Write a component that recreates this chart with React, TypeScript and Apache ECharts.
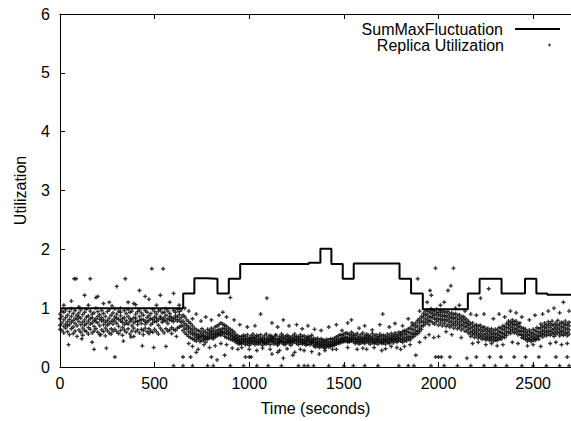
import { useEffect, useRef } from "react";
import * as echarts from "echarts";

// SumMaxFluctuation step line: value holds from each time to the next
const stepTimes = [0, 651, 710, 771, 832, 892, 952, 1314, 1376, 1434, 1494, 1552, 1794, 1855, 1917, 2155, 2217, 2333, 2457, 2517, 2575, 2700];
const stepValues = [1.0, 1.25, 1.51, 1.5, 1.25, 1.5, 1.75, 1.77, 2.01, 1.75, 1.5, 1.76, 1.5, 1.25, 0.98, 1.25, 1.5, 1.25, 1.5, 1.25, 1.23, 1.23];

// Replica Utilization, dense band: [time, v1, v2, v3, v4]
const bandRows: number[][] = [
  [0, 0.82, 0.71, 0.90, 0.64], [10, 0.75, 0.86, 0.62, 0.95], [20, 0.80, 0.69, 0.93, 0.58], [30, 0.84, 0.73, 0.66, 0.97],
  [40, 0.77, 0.88, 0.60, 0.70], [50, 0.72, 0.81, 0.94, 0.55], [60, 0.86, 0.76, 0.65, 0.99], [70, 0.79, 0.68, 0.91, 0.57],
  [80, 0.74, 0.83, 0.61, 0.96], [90, 0.81, 0.70, 0.88, 0.52], [100, 0.77, 0.85, 0.63, 0.92], [110, 0.83, 0.72, 0.97, 0.59],
  [120, 0.76, 0.89, 0.66, 0.54], [130, 0.80, 0.71, 0.93, 0.62], [140, 0.85, 0.74, 0.60, 0.98], [150, 0.78, 0.87, 0.67, 0.56],
  [160, 0.73, 0.82, 0.95, 0.64], [170, 0.84, 0.75, 0.58, 0.90], [180, 0.79, 0.69, 0.92, 0.61], [190, 0.82, 0.77, 0.65, 1.00],
  [200, 0.75, 0.86, 0.59, 0.94], [210, 0.81, 0.70, 0.89, 0.55], [220, 0.78, 0.84, 0.63, 0.96], [230, 0.72, 0.80, 0.91, 0.60],
  [240, 0.86, 0.76, 0.66, 0.53], [250, 0.79, 0.71, 0.94, 0.62], [260, 0.83, 0.74, 0.58, 0.97], [270, 0.77, 0.88, 0.65, 0.56],
  [280, 0.80, 0.73, 0.92, 0.61], [290, 0.85, 0.78, 0.64, 0.99], [300, 0.74, 0.83, 0.60, 0.90], [310, 0.81, 0.69, 0.95, 0.57],
  [320, 0.78, 0.87, 0.62, 0.93], [330, 0.76, 0.82, 0.67, 0.54], [340, 0.84, 0.72, 0.96, 0.63], [350, 0.79, 0.75, 0.59, 0.91],
  [360, 0.73, 0.86, 0.65, 0.98], [370, 0.82, 0.77, 0.93, 0.56], [380, 0.80, 0.70, 0.61, 0.95], [390, 0.75, 0.84, 0.66, 0.52],
  [400, 0.83, 0.78, 0.90, 0.60], [410, 0.77, 0.72, 0.94, 0.63], [420, 0.86, 0.79, 0.58, 0.97], [430, 0.74, 0.81, 0.64, 0.92],
  [440, 0.80, 0.88, 0.62, 0.55], [450, 0.78, 0.73, 0.96, 0.66], [460, 0.84, 0.76, 0.60, 0.93], [470, 0.79, 0.87, 0.65, 0.57],
  [480, 0.72, 0.82, 0.91, 0.61], [490, 0.81, 0.75, 0.98, 0.59], [500, 0.85, 0.78, 0.64, 0.94], [510, 0.77, 0.83, 0.60, 0.90],
  [520, 0.80, 0.71, 0.95, 0.56], [530, 0.83, 0.86, 0.66, 0.97], [540, 0.76, 0.81, 0.62, 0.92], [550, 0.84, 0.79, 0.93, 0.58],
  [560, 0.78, 0.88, 0.65, 0.99], [570, 0.82, 0.74, 0.61, 0.95], [580, 0.86, 0.80, 0.91, 0.63], [590, 0.79, 0.84, 0.67, 0.57],
  [600, 0.83, 0.77, 0.96, 0.64], [610, 0.81, 0.87, 0.62, 0.93], [620, 0.85, 0.78, 0.98, 0.66], [630, 0.80, 0.89, 0.68, 0.94],
  [640, 0.84, 0.76, 0.97, 0.70],
  [650, 0.78, 0.70, 0.88, 0.62], [660, 0.74, 0.85, 0.66, 0.58], [670, 0.71, 0.64, 0.80, 0.55], [680, 0.68, 0.77, 0.60, 0.52],
  [690, 0.65, 0.58, 0.74, 0.50], [700, 0.62, 0.70, 0.56, 0.48],
  [710, 0.58, 0.53, 0.66, 0.46], [720, 0.56, 0.63, 0.50, 0.44], [730, 0.55, 0.51, 0.62, 0.47], [740, 0.53, 0.60, 0.49, 0.43],
  [750, 0.57, 0.52, 0.65, 0.45], [760, 0.54, 0.61, 0.50, 0.46], [770, 0.52, 0.48, 0.59, 0.42], [780, 0.56, 0.64, 0.51, 0.47],
  [790, 0.53, 0.58, 0.49, 0.62], [800, 0.55, 0.60, 0.50, 0.66], [810, 0.57, 0.52, 0.63, 0.48],
  [820, 0.60, 0.55, 0.68, 0.51], [830, 0.62, 0.70, 0.57, 0.53], [840, 0.64, 0.58, 0.72, 0.55], [850, 0.63, 0.75, 0.59, 0.54],
  [860, 0.66, 0.60, 0.73, 0.56], [870, 0.65, 0.71, 0.58, 0.52], [880, 0.62, 0.57, 0.69, 0.50], [890, 0.60, 0.66, 0.55, 0.49],
  [900, 0.58, 0.53, 0.64, 0.47], [910, 0.56, 0.62, 0.51, 0.46], [920, 0.53, 0.49, 0.59, 0.45],
  [930, 0.50, 0.46, 0.55, 0.42], [940, 0.48, 0.44, 0.53, 0.40], [950, 0.46, 0.51, 0.43, 0.39], [960, 0.47, 0.42, 0.52, 0.40],
  [970, 0.45, 0.49, 0.41, 0.54], [980, 0.47, 0.43, 0.52, 0.38], [990, 0.44, 0.48, 0.40, 0.55], [1000, 0.46, 0.50, 0.42, 0.37],
  [1010, 0.48, 0.44, 0.53, 0.40], [1020, 0.45, 0.41, 0.50, 0.56], [1030, 0.47, 0.43, 0.51, 0.38], [1040, 0.44, 0.49, 0.40, 0.54],
  [1050, 0.46, 0.42, 0.52, 0.39], [1060, 0.48, 0.45, 0.41, 0.55], [1070, 0.45, 0.50, 0.43, 0.37], [1080, 0.47, 0.42, 0.53, 0.40],
  [1090, 0.44, 0.48, 0.39, 0.56], [1100, 0.46, 0.43, 0.51, 0.41], [1110, 0.48, 0.45, 0.54, 0.38], [1120, 0.45, 0.49, 0.42, 0.52],
  [1130, 0.47, 0.43, 0.50, 0.39], [1140, 0.46, 0.41, 0.53, 0.55], [1150, 0.44, 0.48, 0.40, 0.37], [1160, 0.47, 0.44, 0.52, 0.41],
  [1170, 0.45, 0.50, 0.42, 0.56], [1180, 0.48, 0.43, 0.53, 0.39], [1190, 0.46, 0.41, 0.51, 0.38], [1200, 0.44, 0.49, 0.42, 0.54],
  [1210, 0.47, 0.45, 0.52, 0.40], [1220, 0.45, 0.42, 0.50, 0.37], [1230, 0.48, 0.44, 0.53, 0.41], [1240, 0.46, 0.50, 0.43, 0.56],
  [1250, 0.44, 0.47, 0.40, 0.52], [1260, 0.47, 0.43, 0.51, 0.38], [1270, 0.45, 0.49, 0.41, 0.55], [1280, 0.46, 0.42, 0.52, 0.39],
  [1290, 0.43, 0.47, 0.40, 0.53], [1300, 0.45, 0.41, 0.50, 0.37], [1310, 0.44, 0.48, 0.39, 0.52], [1320, 0.46, 0.42, 0.51, 0.38],
  [1330, 0.43, 0.47, 0.40, 0.54], [1340, 0.45, 0.41, 0.49, 0.36],
  [1350, 0.42, 0.38, 0.47, 0.34], [1360, 0.40, 0.44, 0.36, 0.49], [1370, 0.41, 0.37, 0.46, 0.33], [1380, 0.39, 0.43, 0.35, 0.48],
  [1390, 0.38, 0.42, 0.34, 0.46], [1400, 0.40, 0.36, 0.45, 0.32], [1410, 0.39, 0.43, 0.35, 0.47], [1420, 0.41, 0.37, 0.46, 0.34],
  [1430, 0.42, 0.38, 0.48, 0.35], [1440, 0.43, 0.39, 0.47, 0.36],
  [1450, 0.44, 0.40, 0.49, 0.37], [1460, 0.46, 0.42, 0.51, 0.39], [1470, 0.47, 0.43, 0.53, 0.40], [1480, 0.48, 0.44, 0.55, 0.41],
  [1490, 0.49, 0.45, 0.54, 0.42], [1500, 0.50, 0.46, 0.56, 0.43], [1510, 0.51, 0.47, 0.58, 0.44], [1520, 0.50, 0.46, 0.57, 0.42],
  [1530, 0.49, 0.45, 0.55, 0.43], [1540, 0.48, 0.53, 0.44, 0.59], [1550, 0.47, 0.51, 0.43, 0.56], [1560, 0.48, 0.44, 0.54, 0.40],
  [1570, 0.46, 0.50, 0.42, 0.57], [1580, 0.47, 0.43, 0.52, 0.39], [1590, 0.49, 0.45, 0.55, 0.41], [1600, 0.46, 0.50, 0.42, 0.58],
  [1610, 0.48, 0.44, 0.53, 0.40], [1620, 0.47, 0.51, 0.43, 0.56], [1630, 0.45, 0.49, 0.41, 0.54], [1640, 0.48, 0.44, 0.52, 0.39],
  [1650, 0.46, 0.50, 0.42, 0.57], [1660, 0.47, 0.43, 0.53, 0.40], [1670, 0.45, 0.49, 0.41, 0.55], [1680, 0.48, 0.44, 0.52, 0.39],
  [1690, 0.46, 0.51, 0.42, 0.56], [1700, 0.47, 0.43, 0.53, 0.40], [1710, 0.45, 0.49, 0.41, 0.54], [1720, 0.47, 0.44, 0.52, 0.39],
  [1730, 0.46, 0.50, 0.42, 0.56], [1740, 0.48, 0.43, 0.53, 0.40], [1750, 0.47, 0.51, 0.44, 0.57], [1760, 0.49, 0.45, 0.54, 0.41],
  [1770, 0.48, 0.52, 0.44, 0.58], [1780, 0.50, 0.46, 0.55, 0.42], [1790, 0.49, 0.53, 0.45, 0.59],
  [1800, 0.49, 0.55, 0.44, 0.58], [1810, 0.53, 0.47, 0.60, 0.42], [1820, 0.50, 0.57, 0.45, 0.62], [1830, 0.55, 0.49, 0.61, 0.44],
  [1840, 0.52, 0.59, 0.47, 0.65], [1850, 0.58, 0.51, 0.66, 0.46], [1860, 0.56, 0.63, 0.50, 0.70],
  [1870, 0.64, 0.57, 0.72, 0.52], [1880, 0.60, 0.68, 0.55, 0.75], [1890, 0.70, 0.62, 0.79, 0.57], [1900, 0.66, 0.75, 0.60, 0.82],
  [1910, 0.78, 0.70, 0.86, 0.64],
  [1920, 0.84, 0.76, 0.91, 0.70], [1930, 0.80, 0.88, 0.73, 0.95], [1940, 0.90, 0.83, 0.97, 0.76], [1950, 0.86, 0.79, 0.94, 0.72],
  [1960, 0.92, 0.85, 0.78, 0.99], [1970, 0.84, 0.90, 0.75, 0.96], [1980, 0.88, 0.81, 0.95, 0.73], [1990, 0.83, 0.91, 0.77, 0.98],
  [2000, 0.87, 0.80, 0.93, 0.71],
  [2010, 0.82, 0.89, 0.75, 0.96], [2020, 0.86, 0.79, 0.93, 0.70], [2030, 0.81, 0.88, 0.74, 0.95], [2040, 0.85, 0.78, 0.92, 0.69],
  [2050, 0.80, 0.87, 0.72, 0.94], [2060, 0.83, 0.76, 0.90, 0.68], [2070, 0.78, 0.85, 0.71, 0.92], [2080, 0.82, 0.74, 0.89, 0.66],
  [2090, 0.77, 0.84, 0.70, 0.91], [2100, 0.80, 0.73, 0.87, 0.65], [2110, 0.75, 0.82, 0.68, 0.89], [2120, 0.78, 0.71, 0.85, 0.63],
  [2130, 0.73, 0.80, 0.66, 0.86], [2140, 0.76, 0.69, 0.83, 0.61],
  [2150, 0.68, 0.74, 0.61, 0.80], [2160, 0.64, 0.71, 0.57, 0.77], [2170, 0.66, 0.59, 0.73, 0.52], [2180, 0.61, 0.68, 0.55, 0.75],
  [2190, 0.63, 0.57, 0.70, 0.50], [2200, 0.59, 0.66, 0.53, 0.72], [2210, 0.62, 0.55, 0.69, 0.49], [2220, 0.57, 0.64, 0.51, 0.71],
  [2230, 0.60, 0.53, 0.67, 0.47], [2240, 0.55, 0.62, 0.49, 0.68],
  [2250, 0.57, 0.51, 0.64, 0.46], [2260, 0.53, 0.60, 0.48, 0.66], [2270, 0.56, 0.50, 0.62, 0.45], [2280, 0.52, 0.58, 0.47, 0.65],
  [2290, 0.55, 0.49, 0.61, 0.44], [2300, 0.51, 0.57, 0.46, 0.64], [2310, 0.56, 0.50, 0.63, 0.45], [2320, 0.54, 0.60, 0.48, 0.67],
  [2330, 0.59, 0.52, 0.66, 0.47], [2340, 0.57, 0.64, 0.51, 0.70], [2350, 0.63, 0.56, 0.69, 0.50], [2360, 0.60, 0.67, 0.54, 0.74],
  [2370, 0.66, 0.72, 0.59, 0.78], [2380, 0.70, 0.63, 0.76, 0.57], [2390, 0.67, 0.74, 0.61, 0.80], [2400, 0.71, 0.64, 0.77, 0.58],
  [2410, 0.65, 0.72, 0.59, 0.78], [2420, 0.68, 0.61, 0.74, 0.55], [2430, 0.62, 0.69, 0.56, 0.75], [2440, 0.60, 0.54, 0.66, 0.50],
  [2450, 0.55, 0.61, 0.49, 0.66], [2460, 0.52, 0.58, 0.47, 0.64], [2470, 0.54, 0.48, 0.60, 0.44], [2480, 0.50, 0.56, 0.46, 0.63],
  [2490, 0.53, 0.47, 0.59, 0.43], [2500, 0.51, 0.57, 0.46, 0.64], [2510, 0.55, 0.49, 0.62, 0.45], [2520, 0.53, 0.60, 0.48, 0.67],
  [2530, 0.58, 0.52, 0.65, 0.47],
  [2540, 0.60, 0.67, 0.54, 0.73], [2550, 0.63, 0.57, 0.70, 0.51], [2560, 0.61, 0.68, 0.55, 0.75], [2570, 0.66, 0.59, 0.72, 0.53],
  [2580, 0.62, 0.70, 0.56, 0.77], [2590, 0.67, 0.60, 0.74, 0.54], [2600, 0.63, 0.71, 0.57, 0.78], [2610, 0.65, 0.58, 0.72, 0.52],
  [2620, 0.68, 0.61, 0.75, 0.55], [2630, 0.64, 0.71, 0.58, 0.79], [2640, 0.66, 0.59, 0.73, 0.53], [2650, 0.62, 0.69, 0.56, 0.76],
  [2660, 0.67, 0.60, 0.74, 0.54], [2670, 0.64, 0.71, 0.57, 0.78], [2680, 0.66, 0.59, 0.73, 0.53], [2690, 0.63, 0.70, 0.56, 0.76],
];

// Replica Utilization, scattered points away from the band: [time, value]
const outliers: number[][] = [
  [20, 1.05], [45, 0.38], [60, 1.12], [75, 1.5], [85, 1.5], [100, 1.02], [115, 0.48], [130, 1.22], [150, 1.05], [160, 1.5],
  [170, 0.42], [180, 0.3], [190, 1.18], [200, 1.2], [215, 0.55], [230, 1.08], [245, 0.32], [260, 1.1], [275, 1.04], [290, 0.17],
  [300, 1.37], [320, 1.0], [335, 0.44], [345, 1.5], [360, 1.1], [375, 0.51], [390, 1.08], [400, 1.06], [420, 1.3], [435, 0.36],
  [450, 1.2], [470, 1.15], [485, 1.67], [495, 0.33], [510, 1.05], [530, 1.22], [545, 1.67], [560, 0.35], [580, 1.1], [600, 1.25],
  [615, 0.52], [630, 1.05],
  [600, 0.02], [650, 0.02], [700, 0.02], [780, 0.02], [810, 0.02], [900, 0.02], [970, 0.02], [1040, 0.02], [1100, 0.02], [1170, 0.02],
  [1260, 0.02], [1290, 0.02], [1310, 0.02], [1340, 0.02], [1420, 0.02], [1500, 0.02], [1550, 0.02], [1610, 0.02], [1680, 0.02], [1790, 0.02],
  [1840, 0.02], [1870, 0.02], [1960, 0.02], [2030, 0.02], [2100, 0.02], [2170, 0.02], [2240, 0.02], [2300, 0.02], [2360, 0.02], [2440, 0.02],
  [2500, 0.02], [2570, 0.02], [2640, 0.02], [2690, 0.02],
  [650, 0.17], [690, 0.17], [720, 0.25], [800, 0.17], [830, 0.12], [870, 0.2], [980, 0.17], [1000, 0.17], [1010, 0.17], [1120, 0.22],
  [1150, 0.25], [1180, 0.15], [1230, 0.2], [1290, 0.28], [1460, 0.3], [1620, 0.3], [1700, 0.28], [1800, 0.3], [1880, 0.2], [1985, 0.17],
  [2000, 0.17], [2015, 0.17], [2060, 0.17], [2150, 0.15], [2200, 0.17], [2270, 0.17], [2330, 0.17], [2400, 0.17], [2460, 0.17], [2530, 0.17],
  [2620, 0.17], [2680, 0.17],
  [660, 1.0], [680, 0.95], [700, 0.82], [720, 0.9], [745, 0.78], [770, 0.85], [800, 0.8], [840, 0.88], [860, 0.93], [880, 0.85],
  [900, 1.18], [920, 0.8], [950, 0.72], [990, 0.68], [1030, 0.7], [1060, 0.9], [1093, 1.17], [1120, 0.75], [1150, 0.68], [1180, 0.8],
  [1210, 0.7], [1250, 0.72], [1280, 0.65], [1310, 0.7], [1345, 0.64], [1380, 0.62], [1420, 0.68], [1460, 0.72], [1490, 0.62], [1520, 0.75],
  [1540, 0.8], [1580, 0.66], [1610, 0.7], [1650, 0.63], [1690, 0.72], [1705, 0.9], [1740, 0.68], [1770, 0.74], [1810, 0.7], [1840, 0.82],
  [1860, 0.75], [1890, 1.5], [1900, 0.95], [1940, 1.1], [1955, 1.3], [1962, 1.22], [1984, 1.68], [2010, 1.05], [2030, 1.1], [2050, 1.3],
  [2065, 1.38], [2079, 1.68], [2090, 1.0], [2110, 1.05], [2140, 0.95], [2170, 0.9], [2200, 0.88], [2222, 1.17], [2240, 0.9], [2265, 1.33],
  [2290, 0.82], [2320, 0.9], [2350, 0.85], [2380, 0.95], [2410, 0.92], [2440, 0.85], [2480, 0.8], [2510, 0.88], [2550, 0.9], [2580, 0.95],
  [2610, 1.0], [2640, 0.92], [2660, 1.1], [2690, 0.95],
  [680, 0.4], [700, 0.35], [730, 0.3], [760, 0.38], [790, 0.33], [820, 0.36], [850, 0.4], [880, 0.38], [910, 0.32], [940, 0.3],
  [960, 0.33], [1000, 0.3], [1040, 0.28], [1070, 0.32], [1110, 0.3], [1160, 0.28], [1200, 0.31], [1240, 0.25], [1270, 0.3], [1330, 0.26],
  [1370, 0.22], [1400, 0.28], [1440, 0.3], [1520, 0.33], [1570, 0.3], [1600, 0.32], [1660, 0.33], [1720, 0.31], [1750, 0.35], [1780, 0.33],
  [1820, 0.35], [1850, 0.38], [1900, 0.42], [1930, 0.5], [1950, 0.55], [1975, 0.5], [2000, 0.52], [2040, 0.6], [2070, 0.55], [2120, 0.5],
  [2180, 0.4], [2210, 0.42], [2250, 0.38], [2280, 0.4], [2310, 0.36], [2340, 0.38], [2390, 0.42], [2420, 0.4], [2470, 0.36], [2500, 0.38],
  [2540, 0.35], [2590, 0.4], [2620, 0.42], [2650, 0.38], [2680, 0.4],
];

const xTickInterval = 500;
const yTickInterval = 1;

const PLUS = "path://M1,0H2V1H3V2H2V3H1V2H0V1H1Z";
const LINE_ICON = "path://M0,0H45V2H0Z";
const FONT = "'Liberation Sans', Arial, Helvetica, sans-serif";

export default function App() {
  const ref = useRef<HTMLDivElement>(null);
  useEffect(() => {
    document.body.style.margin = "0";
    const chart = echarts.init(ref.current!, null, { renderer: "svg" });
    const lineData = stepTimes.map((t, i) => [t, stepValues[i]]);
    const scatterData: number[][] = [];
    bandRows.forEach((r) => {
      for (let k = 1; k < r.length; k++) scatterData.push([r[0], r[k]]);
    });
    outliers.forEach((p) => scatterData.push(p));

    const axisText = { fontSize: 16, color: "#000", fontFamily: FONT };
    chart.setOption({
      animation: false,
      textStyle: { fontFamily: FONT },
      grid: { left: 60, right: 0, top: 14, bottom: 54 },
      xAxis: [
        {
          type: "value",
          min: 0,
          max: 2700,
          interval: xTickInterval,
          name: "Time (seconds)",
          nameLocation: "middle",
          nameGap: 33,
          nameTextStyle: axisText,
          axisLine: { show: true, onZero: false, lineStyle: { color: "#000", width: 1 } },
          axisTick: { show: true, inside: true, length: 5, lineStyle: { color: "#000" } },
          axisLabel: { ...axisText, margin: 8, showMaxLabel: false, formatter: (v: number) => String(v) },
          splitLine: { show: false },
        },
        {
          type: "value",
          position: "top",
          min: 0,
          max: 2700,
          interval: xTickInterval,
          axisLine: { show: true, onZero: false, lineStyle: { color: "#000", width: 1 } },
          axisTick: { show: true, inside: true, length: 5, lineStyle: { color: "#000" } },
          axisLabel: { show: false },
          splitLine: { show: false },
        },
      ],
      yAxis: {
        type: "value",
        min: 0,
        max: 6,
        interval: yTickInterval,
        name: "Utilization",
        nameLocation: "middle",
        nameGap: 32,
        nameRotate: 90,
        nameTextStyle: axisText,
        axisLine: { show: true, onZero: false, lineStyle: { color: "#000", width: 1 } },
        axisTick: { show: true, inside: true, length: 5, lineStyle: { color: "#000" } },
        axisLabel: { ...axisText, margin: 10 },
        splitLine: { show: false },
      },
      legend: [
        {
          data: [{ name: "SumMaxFluctuation", icon: LINE_ICON }],
          right: 6,
          top: 16,
          align: "right",
          itemWidth: 45,
          itemHeight: 12,
          textStyle: { ...axisText, lineHeight: 13, padding: [0, 7, 0, 0] },
        },
        {
          data: [{ name: "Replica Utilization", icon: PLUS }],
          right: 15,
          top: 32,
          align: "right",
          itemWidth: 45,
          itemHeight: 3,
          textStyle: { ...axisText, lineHeight: 13, padding: [0, 18, 0, 0] },
        },
      ],
      series: [
        {
          name: "SumMaxFluctuation",
          type: "line",
          step: "end",
          data: lineData,
          symbol: "none",
          showSymbol: false,
          lineStyle: { color: "#000", width: 2 },
          itemStyle: { color: "#000" },
          z: 3,
        },
        {
          name: "Replica Utilization",
          type: "scatter",
          data: scatterData,
          symbol: PLUS,
          symbolSize: 4,
          itemStyle: { color: "#000" },
          z: 2,
        },
      ],
    });
    return () => chart.dispose();
  }, []);
  return <div ref={ref} style={{ position: "absolute", left: 0, top: 0, width: 571, height: 421 }} />;
}
